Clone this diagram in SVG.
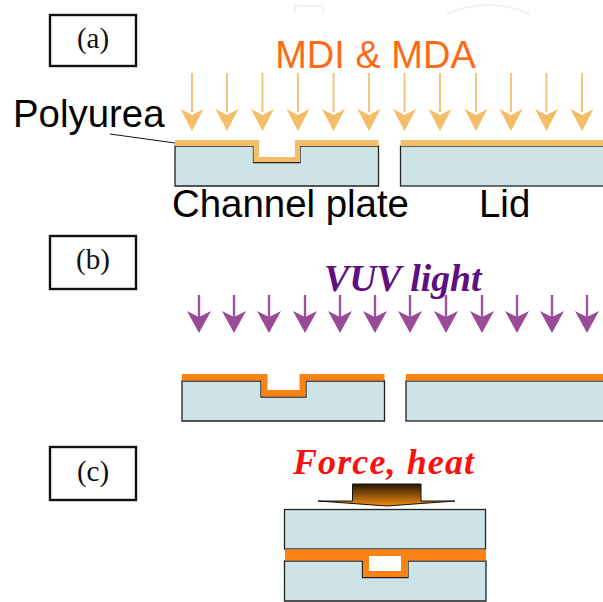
<svg xmlns="http://www.w3.org/2000/svg" width="603" height="602" viewBox="0 0 603 602">
<style>
.box{fill:#fff;stroke:#111;stroke-width:2.400}
.lab{font-family:"Liberation Serif",serif;font-size:29px;text-anchor:middle;fill:#111}
.sans{font-family:"Liberation Sans",Arial,sans-serif;font-size:38.400px;fill:#000}
.it{font-family:"Liberation Serif",serif;font-weight:bold;font-style:italic}
.plate{fill:#cde3e5;stroke:#222;stroke-width:1.300}
.pu{fill:#f4bd68}
.ox{fill:#fb8213}
.aa{stroke:#f6c47c;stroke-width:2;fill:none}
.ah{fill:#f4bd68}
.va{stroke:#a0529e;stroke-width:2.400;fill:none}
.vh{fill:#9b4a97}
</style>
<defs>
<linearGradient id="g" x1="0" y1="0" x2="0" y2="1"><stop offset="0" stop-color="#2a1704"/><stop offset="1" stop-color="#f08c10"/></linearGradient>
<g id="a1"><path class="aa" d="M0 73V112"/><path class="ah" d="M-11.500 109L0 115L11.500 109L0 131Z"/></g>
<g id="a2"><path class="va" d="M0 295V318"/><path class="vh" d="M-12 311L0 317L12 311L0 333Z"/></g>
</defs>
<path d="M295 14V8Q295 6 297 6H321Q323 6 323 8V14M446 14Q490 -4 530 14" fill="none" stroke="#f2f2f2" stroke-width="2"/>

<g id="panel-a">
<g id="label-a"><rect class="box" x="50" y="15" width="86" height="51"/><text class="lab" x="93" y="48">(a)</text></g>
<text id="mdi" x="375.500" y="68" text-anchor="middle" font-family="'Liberation Sans',Arial,sans-serif" font-size="38" fill="#fd6a16">MDI &amp; MDA</text>
<g id="arrows-a">
<use href="#a1" x="192"/><use href="#a1" x="227"/><use href="#a1" x="262.500"/><use href="#a1" x="298"/><use href="#a1" x="333.500"/><use href="#a1" x="369"/><use href="#a1" x="404.500"/><use href="#a1" x="440"/><use href="#a1" x="476"/><use href="#a1" x="511"/><use href="#a1" x="546.500"/><use href="#a1" x="582"/>
</g>
<text id="polyurea" class="sans" x="13" y="127">Polyurea</text>
<path id="leader" d="M110 134L175 143" stroke="#111" stroke-width="1" fill="none"/>
<g id="plate-a">
<path class="plate" d="M175 146H253.500V162.500H300V146H378.500V186H175Z"/>
<path class="pu" d="M175 140H259V157H295V140H378.500V146H300V162H253.500V146H175Z"/>
</g>
<g id="lid-a"><rect class="plate" x="400.500" y="146" width="204" height="40"/><rect class="pu" x="400.500" y="140" width="203" height="6"/></g>
<text id="channel" class="sans" x="172" y="217">Channel plate</text>
<text id="lid" class="sans" x="479" y="217">Lid</text>
</g>

<g id="panel-b">
<g id="label-b"><rect class="box" x="50" y="236" width="86" height="53"/><text class="lab" x="93" y="269">(b)</text></g>
<text id="vuv" class="it" x="324" y="291" font-size="37.700" fill="#5f0f80">VUV light</text>
<g id="arrows-b">
<use href="#a2" x="199"/><use href="#a2" x="234"/><use href="#a2" x="269"/><use href="#a2" x="305"/><use href="#a2" x="340"/><use href="#a2" x="375"/><use href="#a2" x="410"/><use href="#a2" x="446"/><use href="#a2" x="482"/><use href="#a2" x="517"/><use href="#a2" x="552"/><use href="#a2" x="587"/>
</g>
<g id="plate-b">
<path class="plate" d="M182 381H261V397H306V381H384.500V421H182Z"/>
<path class="ox" d="M182 374H267.500V390H299.500V374H384.500V380.500H305.500V396.500H261.500V380.500H182Z"/>
</g>
<g id="lid-b"><rect class="plate" x="406" y="381" width="198" height="40"/><rect class="ox" x="406" y="374" width="197" height="6.500"/></g>
</g>

<g id="panel-c">
<g id="label-c"><rect class="box" x="50" y="447" width="86" height="53"/><text class="lab" x="93" y="481">(c)</text></g>
<text id="force" class="it" x="293" y="474" font-size="36" letter-spacing="1.100" fill="#fb1010">Force, heat</text>
<path id="press" d="M352.500 484H421V501H455L387 506L318 501H352.500Z" fill="url(#g)" stroke="#111" stroke-width="1"/>
<rect class="plate" x="284.500" y="509.500" width="201" height="39.500"/>
<path class="plate" d="M284.500 561H362.500V577.500H408V561H486V601H284.500Z"/>
<path class="ox" d="M285 549.500H486V560.500H408V577H363V560.500H285Z"/>
<rect x="369" y="556" width="32" height="15" fill="#fff"/>
</g>
</svg>
